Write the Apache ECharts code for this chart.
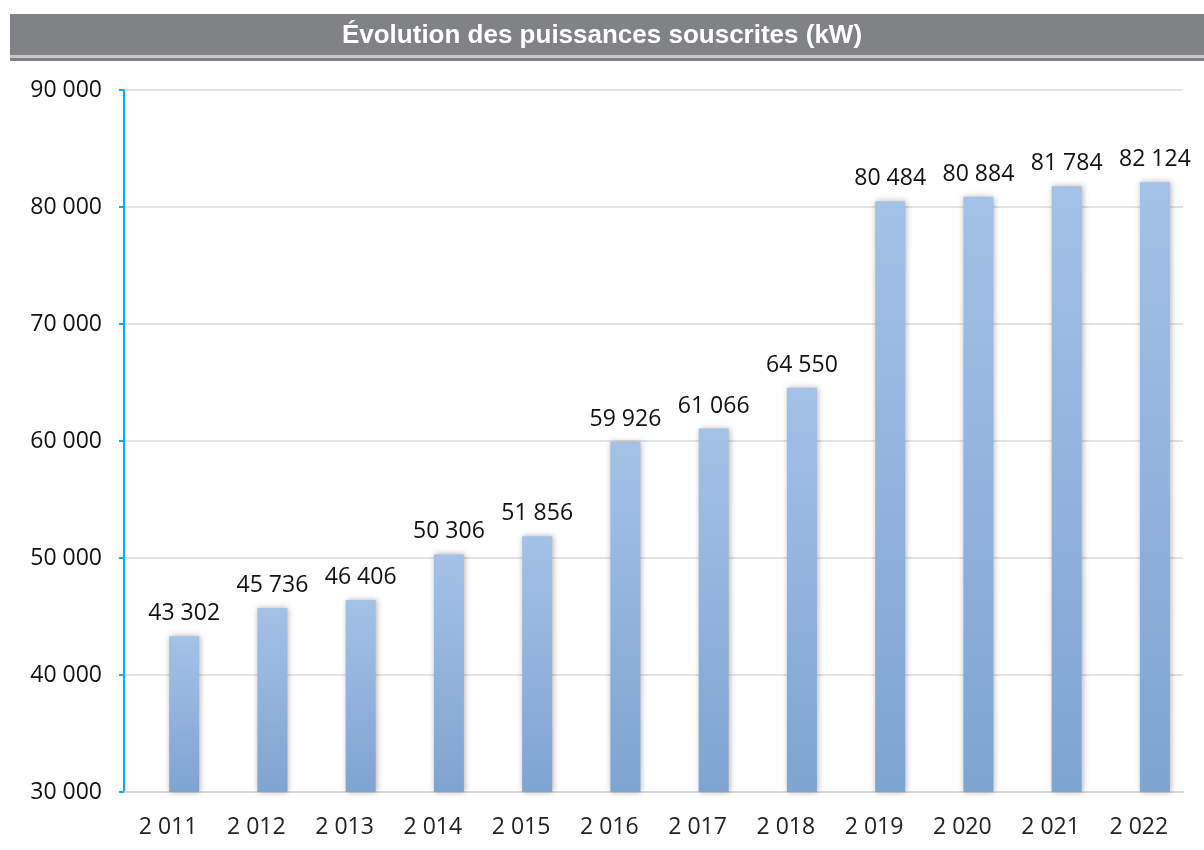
<!DOCTYPE html>
<html><head><meta charset="utf-8">
<script src="https://cdn.jsdelivr.net/npm/echarts@6/dist/echarts.min.js"></script>
<style>html,body{margin:0;padding:0;background:#fff}#c{width:1204px;height:850px}</style>
</head><body><div id="c"></div>
<script>
const titleText = 'Évolution des puissances souscrites (kW)';
const categories = ['2 011','2 012','2 013','2 014','2 015','2 016','2 017','2 018','2 019','2 020','2 021','2 022'];
const values = [43302, 45736, 46406, 50306, 51856, 59926, 61066, 64550, 80484, 80884, 81784, 82124];
const placeholder = categories.map(() => null);
const yMin = 30000, yMax = 90000, yStep = 10000;

function fmt(v){ return String(v).replace(/\B(?=(\d{3})+(?!\d))/g, ' '); }

const chart = echarts.init(document.getElementById('c'), null, {renderer:'canvas'});
chart.setOption({
  animation:false,
  graphic:[
    {type:'rect', shape:{x:10,y:14,width:1194,height:41}, style:{fill:'#818286'}},
    {type:'rect', shape:{x:10,y:55,width:1194,height:3}, style:{fill:'#C8C8C8'}},
    {type:'rect', shape:{x:10,y:58,width:1194,height:3}, style:{fill:'#808184'}},
    {type:'text', left:'center', top:23, style:{text:titleText, fill:'#fff', font:'bold 26px "Liberation Sans", Arial, sans-serif'}}
  ],
  grid:{left:124, right:21, top:90, bottom:58},
  xAxis:{type:'category', data:categories,
    axisLine:{lineStyle:{color:'#D9D9D9', width:2}},
    axisTick:{show:false},
    axisLabel:{color:'#222', fontSize:23, fontFamily:'"Open Sans", "Liberation Sans", sans-serif', margin:24}
  },
  yAxis:{type:'value', min:yMin, max:yMax, interval:yStep,
    axisLine:{show:true, lineStyle:{color:'#00B0F0', width:2}},
    axisTick:{show:true, length:5, lineStyle:{color:'#00B0F0', width:2}},
    splitLine:{lineStyle:{color:'#D9D9D9', width:1.5}},
    axisLabel:{color:'#111', fontSize:23, fontFamily:'"Open Sans", "Liberation Sans", sans-serif', margin:22, formatter:fmt}
  },
  series:[
    {type:'bar', data:placeholder, barWidth:30, barGap:'7%', silent:true},
    {type:'bar', data:values, barWidth:30, barGap:'7%',
      itemStyle:{
        color:new echarts.graphic.LinearGradient(0,0,0,1,[{offset:0,color:'#A4C1E7'},{offset:1,color:'#7EA4D1'}]),
        shadowBlur:6, shadowColor:'rgba(0,0,0,0.3)', shadowOffsetX:1
      },
      label:{show:true, position:'top', distance:11, color:'#111', fontSize:23,
        fontFamily:'"Open Sans", "Liberation Sans", sans-serif', formatter:p=>fmt(p.value)}
    }
  ]
});
</script></body></html>
